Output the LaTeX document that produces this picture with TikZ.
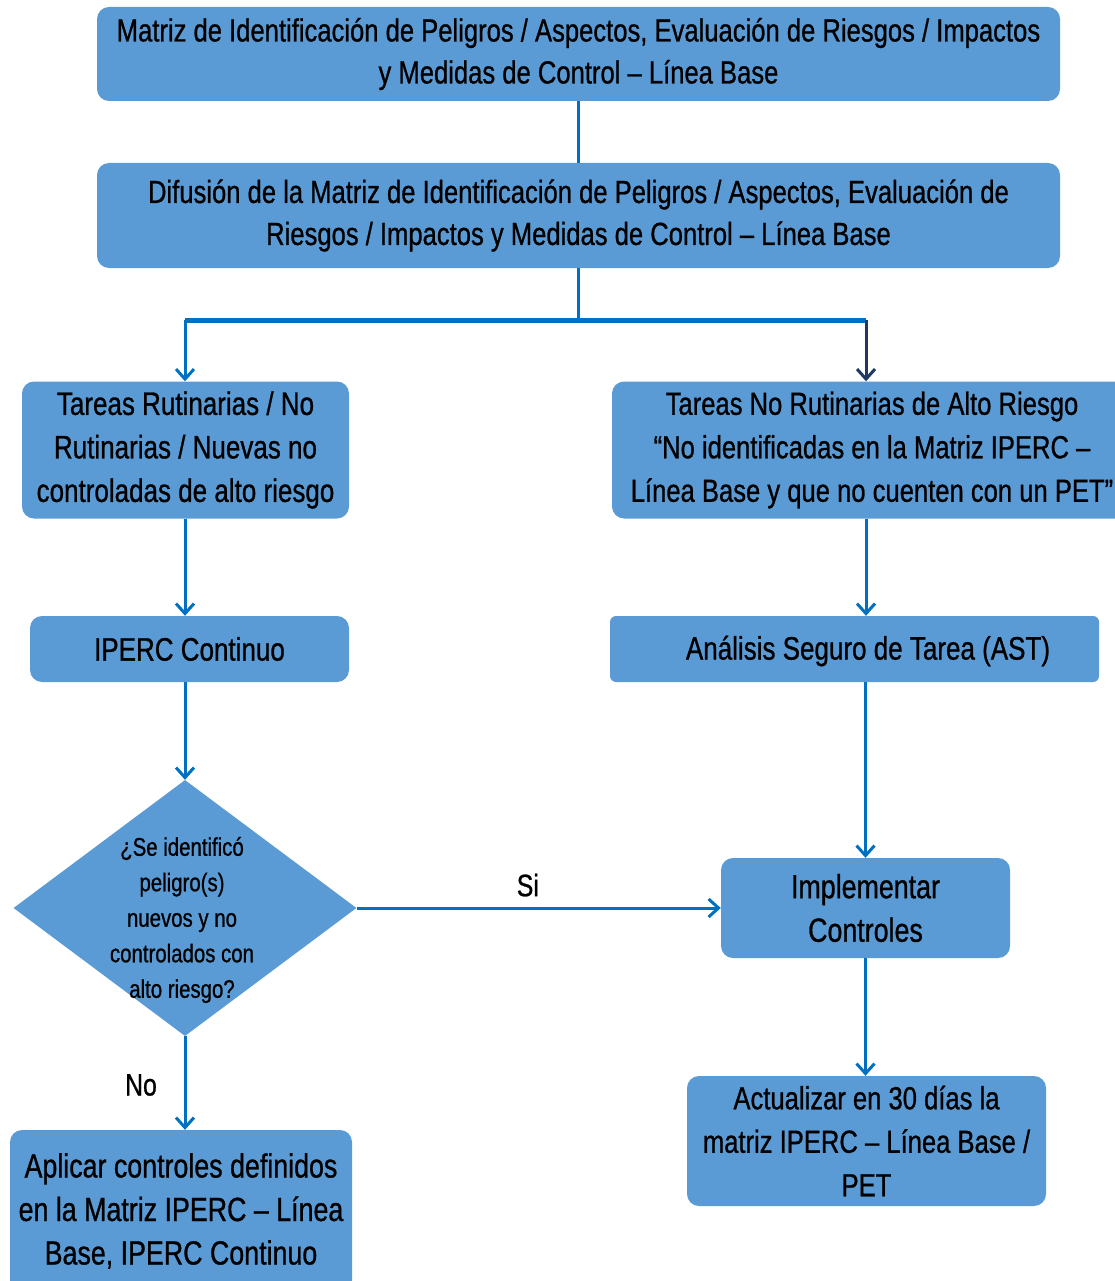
\documentclass[tikz,border=0pt]{standalone}
\usepackage{fontspec}
\setmainfont{Liberation Sans}[FakeStretch=0.8, FakeBold=0.8]
\usetikzlibrary{shapes.geometric,arrows.meta}
\definecolor{boxfill}{HTML}{5B9BD5}
\definecolor{linecol}{HTML}{0070C0}
\definecolor{navy}{HTML}{1F3864}
\tikzset{
  box/.style={draw=none, fill=boxfill, rounded corners=12pt, inner sep=0pt, align=center, text=black},
  conn/.style={draw=linecol, line width=3pt},
  arr/.style={conn, -{Straight Barb[length=10pt,width=18pt,line width=3pt]}},
  bigtxt/.style={font=\fontsize{32}{42}\selectfont},
  midtxt/.style={font=\fontsize{32.5}{43.5}\selectfont},
  lgtxt/.style={font=\fontsize{33.5}{43.5}\selectfont},
  lbl/.style={font=\fontsize{31}{36}\selectfont, inner sep=0pt}
}
\begin{document}
\begin{tikzpicture}[x=1pt,y=-1pt]
\useasboundingbox (0,0) rectangle (1115,1281);
\clip (0,0) rectangle (1115,1281);
\fill[white] (0,0) rectangle (1115,1281);

\node[box, bigtxt, minimum width=963pt, minimum height=94pt] (b1) at (578.5,54)
  {Matriz de Identificación de Peligros / Aspectos, Evaluación de Riesgos / Impactos\\y Medidas de Control – Línea Base};
\node[box, bigtxt, minimum width=963pt, minimum height=105pt] (b2) at (578.5,215.5)
  {Difusión de la Matriz de Identificación de Peligros / Aspectos, Evaluación de\\Riesgos / Impactos y Medidas de Control – Línea Base};
\node[box, midtxt, minimum width=327pt, minimum height=137pt] (b3) at (185.5,450)
  {Tareas Rutinarias / No\\Rutinarias / Nuevas no\\controladas de alto riesgo};
\node[box, font=\fontsize{32}{43.5}\selectfont, minimum width=520pt, minimum height=137pt] (b4) at (872,450)
  {Tareas No Rutinarias de Alto Riesgo\\“No identificadas en la Matriz IPERC –\\Línea Base y que no cuenten con un PET”};
\node[box, midtxt, minimum width=319pt, minimum height=66pt] (b5) at (189.5,649)
  {IPERC Continuo};
\node[box, rounded corners=6pt, minimum width=489pt, minimum height=66pt] (b6) at (854.5,649) {};
\node[midtxt, inner sep=0pt] (b6t) at (868,651) {Análisis Seguro de Tarea (AST)};
\node[shape=diamond, fill=boxfill, inner sep=0pt, minimum width=343pt, minimum height=256pt] (dia) at (185,908) {};
\node[font=\fontsize{25.5}{35.5}\selectfont, align=center, inner sep=0pt] (diat) at (182,920)
  {¿Se identificó\\peligro(s)\\nuevos y no\\controlados con\\alto riesgo?};
\node[box, lgtxt, minimum width=289pt, minimum height=100pt] (b7) at (865.5,908)
  {Implementar\\Controles};
\node[box, font=\fontsize{32}{43.5}\selectfont, minimum width=359pt, minimum height=130pt] (b8) at (866.5,1141)
  {Actualizar en 30 días la\\matriz IPERC – Línea Base /\\PET};
\node[box, lgtxt, minimum width=342pt, minimum height=162pt] (b9) at (181,1211)
  {Aplicar controles definidos\\en la Matriz IPERC – Línea\\Base, IPERC Continuo};

% connectors
\coordinate (split) at (578,320);
\coordinate (lc) at (185,320);
\coordinate (rc) at (866,320);
\draw[conn] (b1.south -| split) -- (b2.north -| split);
\draw[conn] (b2.south -| split) -- (split);
\draw[draw=linecol, line width=5pt] (lc) -- (rc);
\draw[arr, draw=navy] (rc) -- (rc |- b4.north);
\draw[arr] (lc) -- (lc |- b3.north);
\draw[arr] (b3.south -| lc) -- (b5.north -| lc);
\draw[arr] (b4.south -| rc) -- (rc |- b6.north);
\draw[arr] (dia.north |- b5.south) -- (dia.north);
\draw[arr] (dia.east) -- node[lbl, above=10pt, pos=0.47] (si) {Si} (b7.west);
\draw[arr] (b7.north |- b6.south) -- (b7.north);
\draw[arr] (b7.south) -- (b8.north -| b7.south);
\draw[arr] (dia.south) -- (dia.south |- b9.north);
\node[lbl] (no) at (141,1085) {No};
\end{tikzpicture}
\end{document}
